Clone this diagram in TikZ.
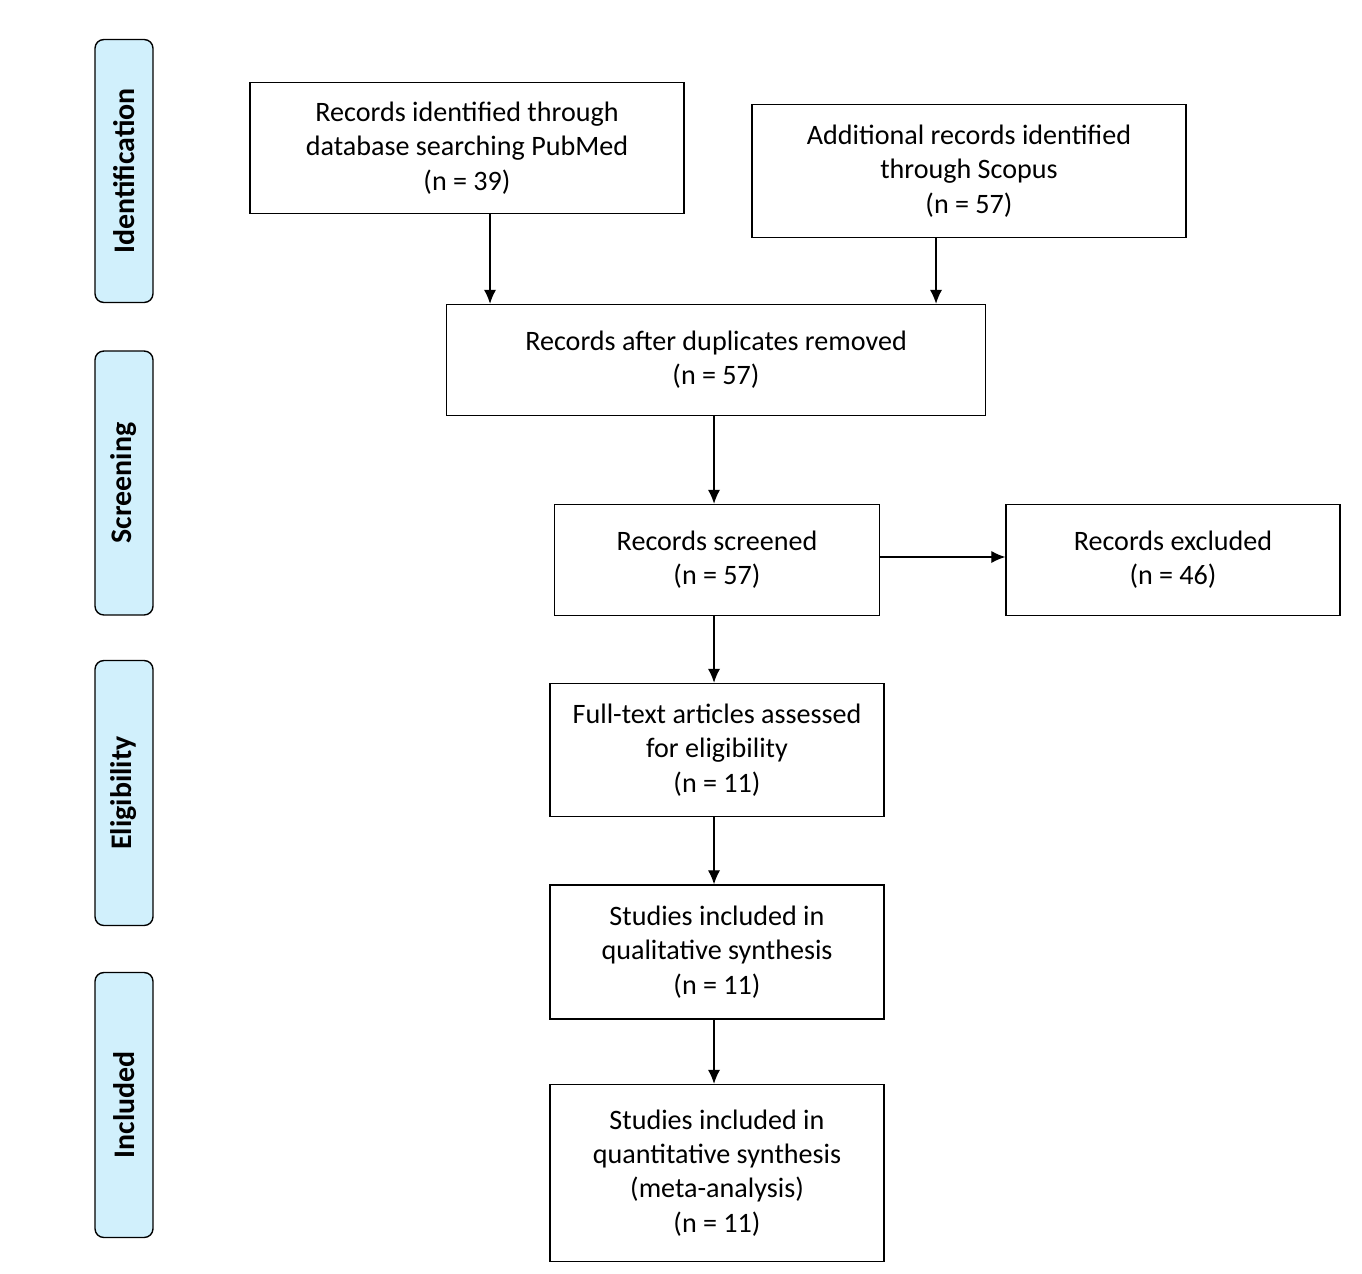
\documentclass[tikz,border=0pt]{standalone}
\usepackage{fontspec}
\setmainfont{Carlito}
\usetikzlibrary{arrows.meta}
\tikzset{
  stage/.style={draw, thick, rounded corners=5pt, fill=cyan!18, minimum height=1.16cm, inner sep=0pt, rotate=90, font=\fontsize{17}{20}\selectfont\bfseries},
  flowbox/.style={draw, thick, align=center, inner sep=0pt, font=\fontsize{16}{19.5}\selectfont},
  flow/.style={-{Latex[length=8pt,width=7pt]}, thick}
}
\begin{document}
\begin{tikzpicture}[x=0.02cm, y=-0.02cm]
  \useasboundingbox (0,0) rectangle (1362,1274);
  % stage labels
  \node[stage, minimum width=5.26cm] (ident) at (124,171) {Identification};
  \node[stage, minimum width=5.28cm] (screen) at (124,483) {Screening};
  \node[stage, minimum width=5.3cm] (elig) at (124,793) {Eligibility};
  \node[stage, minimum width=5.3cm] (incl) at (124,1105) {Included};
  % boxes
  \node[flowbox, minimum width=8.68cm, minimum height=2.62cm] (pubmed) at (467,148) {Records identified through\\database searching PubMed\\(n = 39)};
  \node[flowbox, minimum width=8.68cm, minimum height=2.66cm] (scopus) at (969,171) {Additional records identified\\through Scopus\\(n = 57)};
  \node[flowbox, minimum width=10.78cm, minimum height=2.22cm] (dupl) at (716,360) {Records after duplicates removed\\(n = 57)};
  \node[flowbox, minimum width=6.5cm, minimum height=2.22cm] (screened) at (717,560) {Records screened\\(n = 57)};
  \node[flowbox, minimum width=6.68cm, minimum height=2.22cm] (excl) at (1173,560) {Records excluded\\(n = 46)};
  \node[flowbox, minimum width=6.68cm, minimum height=2.66cm] (fulltext) at (717,750) {Full-text articles assessed\\for eligibility\\(n = 11)};
  \node[flowbox, minimum width=6.68cm, minimum height=2.68cm] (qual) at (717,952) {Studies included in\\qualitative synthesis\\(n = 11)};
  \node[flowbox, minimum width=6.68cm, minimum height=3.54cm] (quant) at (717,1173) {Studies included in\\quantitative synthesis\\(meta-analysis)\\(n = 11)};
  % arrows
  \draw[flow] (pubmed.south -| 490,0) -- (dupl.north -| 490,0);
  \draw[flow] (scopus.south -| 936,0) -- (dupl.north -| 936,0);
  \draw[flow] (dupl.south -| 714,0) -- (screened.north -| 714,0);
  \draw[flow] (screened.east |- 0,557) -- (excl.west |- 0,557);
  \draw[flow] (screened.south -| 714,0) -- (fulltext.north -| 714,0);
  \draw[flow] (fulltext.south -| 714,0) -- (qual.north -| 714,0);
  \draw[flow] (qual.south -| 714,0) -- (quant.north -| 714,0);
\end{tikzpicture}
\end{document}
